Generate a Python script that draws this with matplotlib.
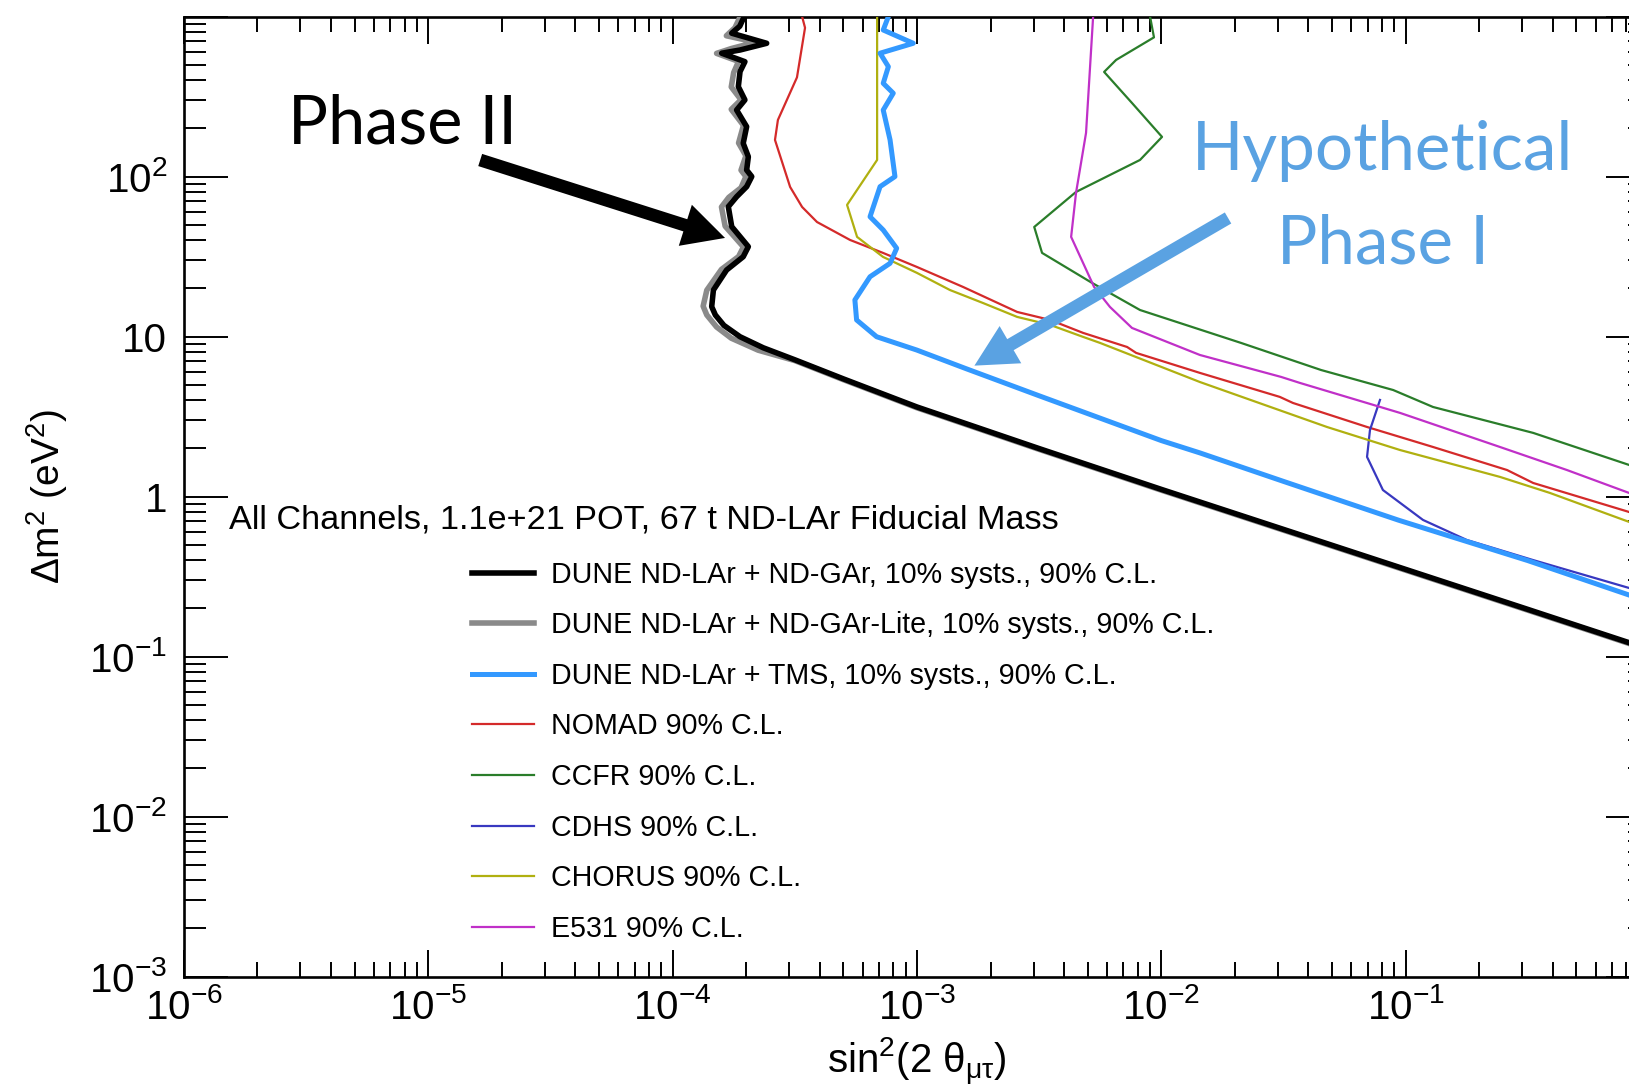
import numpy as np
import matplotlib
matplotlib.use("Agg")
import matplotlib.pyplot as plt
from matplotlib.ticker import FixedLocator, LogLocator, FuncFormatter, NullFormatter

plt.rcParams["font.family"] = "Liberation Sans"
plt.rcParams["mathtext.fontset"] = "custom"
plt.rcParams["mathtext.rm"] = "Liberation Sans"
plt.rcParams["mathtext.it"] = "Liberation Sans"
plt.rcParams["mathtext.bf"] = "Liberation Sans:bold"
plt.rcParams["mathtext.default"] = "regular"

# curves, as log10(sin^2 2theta) and log10(dm^2)
nd_gar_log_s2t = [-3.704, -3.725, -3.758, -3.615, -3.724, -3.799, -3.704, -3.724, -3.731, -3.704,
                  -3.738, -3.697, -3.711, -3.690, -3.697, -3.676, -3.697, -3.738, -3.772, -3.758,
                  -3.690, -3.711, -3.779, -3.833, -3.840, -3.825, -3.790, -3.724, -3.629, -3.50,
                  -3.30, -3.00, -2.50, -2.00, -1.50, -1.00, -0.50, -0.086, 0.0]
nd_gar_log_dm2 = [3.01, 2.94, 2.896, 2.833, 2.791, 2.771, 2.718, 2.656, 2.562, 2.479,
                  2.416, 2.312, 2.208, 2.124, 2.041, 2.000, 1.937, 1.874, 1.812, 1.687,
                  1.562, 1.499, 1.416, 1.291, 1.187, 1.135, 1.070, 0.999, 0.930, 0.855,
                  0.735, 0.56, 0.30, 0.045, -0.205, -0.455, -0.705, -0.913, -0.96]

lite_log_s2t = [-3.72, -3.745, -3.78, -3.66, -3.76, -3.82, -3.73, -3.75, -3.76, -3.72,
                -3.76, -3.71, -3.73, -3.70, -3.72, -3.70, -3.72, -3.77, -3.80, -3.785,
                -3.71, -3.73, -3.80, -3.86, -3.875, -3.86, -3.82, -3.76, -3.65, -3.50,
                -3.30, -3.00, -2.50, -2.00, -1.50, -1.00, -0.50, -0.086, 0.0]
lite_log_dm2 = [3.01, 2.93, 2.88, 2.84, 2.80, 2.77, 2.72, 2.65, 2.56, 2.48,
                2.42, 2.32, 2.21, 2.13, 2.04, 2.00, 1.93, 1.87, 1.81, 1.69,
                1.56, 1.50, 1.42, 1.29, 1.19, 1.135, 1.06, 0.99, 0.915, 0.85,
                0.73, 0.555, 0.295, 0.04, -0.21, -0.46, -0.71, -0.918, -0.965]

tms_log_s2t = [-3.117, -3.138, -3.015, -3.151, -3.117, -3.138, -3.097, -3.138, -3.110, -3.090,
               -3.151, -3.192, -3.138, -3.083, -3.110, -3.192, -3.254, -3.247, -3.165, -3.001,
               -2.80, -2.50, -2.00, -1.842, -1.50, -1.03, -0.50, -0.086, 0.0]
tms_log_dm2 = [3.0, 2.916, 2.833, 2.771, 2.687, 2.583, 2.521, 2.416, 2.229, 2.000,
               1.937, 1.749, 1.666, 1.552, 1.458, 1.374, 1.229, 1.104, 0.999, 0.916,
               0.80, 0.63, 0.35, 0.273, 0.095, -0.147, -0.40, -0.615, -0.66]

nomad_log_s2t = [-3.470, -3.458, -3.491, -3.569, -3.581, -3.519, -3.470, -3.409, -3.274, -3.139,
                 -3.000, -2.811, -2.590, -2.455, -2.320, -2.140, -2.103, -1.842, -1.515, -1.461,
                 -1.158, -0.888, -0.585, -0.478, -0.086, 0.0]
nomad_log_dm2 = [3.0, 2.93, 2.62, 2.354, 2.229, 1.935, 1.81, 1.716, 1.604, 1.523,
                 1.435, 1.31, 1.154, 1.104, 1.023, 0.935, 0.898, 0.773, 0.623, 0.585,
                 0.435, 0.31, 0.166, 0.085, -0.096, -0.14]

ccfr_log_s2t = [-2.046, -2.030, -2.185, -2.234, -2.120, -1.997, -2.087, -2.349, -2.520, -2.488,
                -2.283, -2.087, -1.673, -1.346, -1.051, -0.888, -0.478, -0.086, 0.0]
ccfr_log_dm2 = [3.0, 2.87, 2.729, 2.654, 2.46, 2.248, 2.104, 1.904, 1.685, 1.523,
                1.335, 1.166, 0.96, 0.791, 0.666, 0.56, 0.398, 0.198, 0.15]

cdhs_log_s2t = [-1.105, -1.146, -1.158, -1.093, -0.929, -0.750, -0.480, -0.086, 0.0]
cdhs_log_dm2 = [0.604, 0.416, 0.248, 0.041, -0.146, -0.271, -0.396, -0.571, -0.61]

chorus_log_s2t = [-3.163, -3.163, -3.286, -3.245, -3.139, -3.000, -2.865, -2.730, -2.590, -2.455,
                  -2.320, -2.250, -1.842, -1.322, -1.023, -0.614, -0.410, -0.086, 0.0]
chorus_log_dm2 = [3.0, 2.104, 1.823, 1.623, 1.498, 1.398, 1.291, 1.21, 1.123, 1.073,
                  0.998, 0.96, 0.716, 0.435, 0.291, 0.123, 0.023, -0.158, -0.2]

e531_log_s2t = [-2.279, -2.308, -2.349, -2.369, -2.275, -2.210, -2.120, -1.842, -1.510, -1.432,
                -1.023, -0.614, -0.340, -0.086, 0.0]
e531_log_dm2 = [3.0, 2.273, 1.898, 1.623, 1.31, 1.185, 1.054, 0.885, 0.748, 0.71,
                0.523, 0.31, 0.166, 0.023, -0.02]

labels = [
    "DUNE ND-LAr + ND-GAr, 10% systs., 90% C.L.",
    "DUNE ND-LAr + ND-GAr-Lite, 10% systs., 90% C.L.",
    "DUNE ND-LAr + TMS, 10% systs., 90% C.L.",
    "NOMAD 90% C.L.",
    "CCFR 90% C.L.",
    "CDHS 90% C.L.",
    "CHORUS 90% C.L.",
    "E531 90% C.L.",
]
x_ticks = [1e-6, 1e-5, 1e-4, 1e-3, 1e-2, 1e-1, 1]
y_ticks = [1e-3, 1e-2, 1e-1, 1, 10, 1e2, 1e3]

curves = [
    (nd_gar_log_s2t, nd_gar_log_dm2, "black", 4.0, 6),
    (lite_log_s2t, lite_log_dm2, "#8a8a8a", 4.0, 5),
    (tms_log_s2t, tms_log_dm2, "#3399ff", 3.6, 4),
    (nomad_log_s2t, nomad_log_dm2, "#d42a2a", 1.6, 3),
    (ccfr_log_s2t, ccfr_log_dm2, "#2a7d2a", 1.6, 3),
    (cdhs_log_s2t, cdhs_log_dm2, "#3838c0", 1.6, 3),
    (chorus_log_s2t, chorus_log_dm2, "#b0b010", 1.6, 3),
    (e531_log_s2t, e531_log_dm2, "#c030c8", 1.6, 3),
]

fig = plt.figure(figsize=(16.29, 10.87), dpi=100)
# right edge of the frame sits past the picture edge, as in the source image
ax = fig.add_axes([0.11289, 0.10156, 0.9000, 0.8832])

handles = []
for (lx, ly, color, lw, z), label in zip(curves, labels):
    (h,) = ax.plot(np.power(10.0, lx), np.power(10.0, ly), color=color, lw=lw,
                   label=label, zorder=z)
    handles.append(h)

ax.set_xscale("log")
ax.set_yscale("log")
ax.set_xlim(1e-6, 1)
ax.set_ylim(1e-3, 1e3)


def sci_label(v):
    e = int(round(np.log10(v)))
    if e == 0:
        return "1"
    if e == 1:
        return "10"
    return r"$10^{%d}$" % e


def x_label(v, pos=None):
    # the x = 1 label falls outside the cropped picture
    return "" if v >= 1 else sci_label(v)


def y_label(v, pos=None):
    # no label at the top of the frame
    return "" if v >= 1e3 else sci_label(v)


ax.xaxis.set_major_locator(FixedLocator(x_ticks))
ax.yaxis.set_major_locator(FixedLocator(y_ticks))
ax.xaxis.set_minor_locator(LogLocator(base=10, subs=np.arange(2, 10), numticks=20))
ax.yaxis.set_minor_locator(LogLocator(base=10, subs=np.arange(2, 10), numticks=20))
ax.xaxis.set_major_formatter(FuncFormatter(x_label))
ax.yaxis.set_major_formatter(FuncFormatter(y_label))
ax.xaxis.set_minor_formatter(NullFormatter())
ax.yaxis.set_minor_formatter(NullFormatter())

ax.tick_params(which="both", direction="in", top=True, right=True, width=1.4, colors="black")
ax.tick_params(axis="x", which="major", length=19.5, pad=8, labelsize=29)
ax.tick_params(axis="x", which="minor", length=10.5)
ax.tick_params(axis="y", which="major", length=31.5, pad=12, labelsize=29)
ax.tick_params(axis="y", which="minor", length=16)
for s in ax.spines.values():
    s.set_linewidth(1.9)

ax.set_xlabel(r"sin$^{2}$(2 $\theta_{\mu\tau}$)", fontsize=29, va="center")
ax.xaxis.set_label_coords(0.5, -0.089)
ax.set_ylabel(r"$\Delta$m$^{2}$ (eV$^{2}$)", fontsize=28, va="center")
ax.yaxis.set_label_coords(-0.0934, 0.5)

ax.text(0.0305, 0.476, "All Channels, 1.1e+21 POT, 67 t ND-LAr Fiducial Mass",
        transform=ax.transAxes, fontsize=24.7, ha="left", va="center")
ax.legend(handles=handles, loc="upper left", bbox_to_anchor=(0.1965, 0.4334),
          frameon=False, fontsize=20.6, handlelength=2.15, handletextpad=0.6,
          labelspacing=0.79, borderpad=0, borderaxespad=0)

# slide annotations on top of the plot
note_blue = "#5aa2e2"
arrow_style = "simple,head_length=3.0,head_width=3.1,tail_width=0.92"
ax.annotate("", xy=(0.3691, 0.7694), xytext=(0.2021, 0.8506), xycoords="axes fraction",
            arrowprops=dict(arrowstyle=arrow_style, mutation_scale=10, fc="black",
                            ec="none", shrinkA=0, shrinkB=0), zorder=10)
ax.text(0.0710, 0.8683, "Phase II", transform=ax.transAxes, fontsize=48,
        family="Lato", ha="left", va="baseline", color="black")

ax.annotate("", xy=(0.5392, 0.6364), xytext=(0.7122, 0.7902), xycoords="axes fraction",
            arrowprops=dict(arrowstyle=arrow_style, mutation_scale=10, fc=note_blue,
                            ec="none", shrinkA=0, shrinkB=0), zorder=10)
ax.text(0.8179, 0.8402, "Hypothetical", transform=ax.transAxes, fontsize=48.5,
        family="Lato", ha="center", va="baseline", color=note_blue)
ax.text(0.8179, 0.7433, "Phase I", transform=ax.transAxes, fontsize=48.5,
        family="Lato", ha="center", va="baseline", color=note_blue)

plt.savefig("out.png", dpi=100)
